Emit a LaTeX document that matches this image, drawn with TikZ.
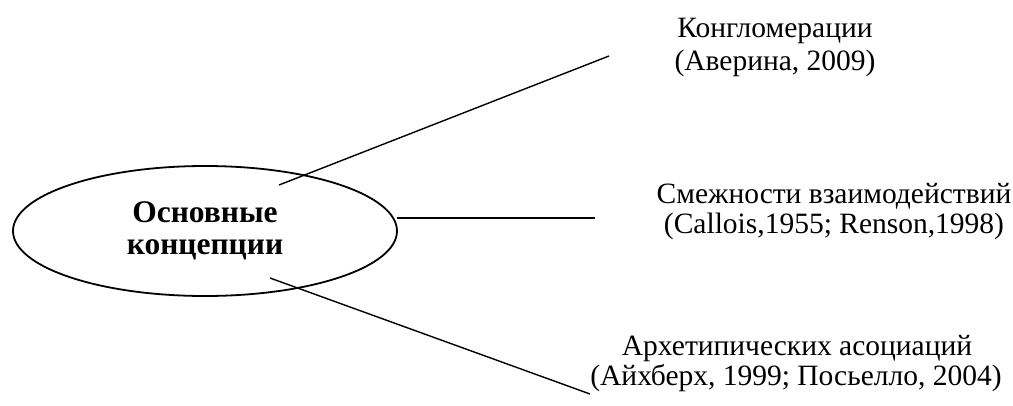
\documentclass[tikz,border=0pt]{standalone}
\usepackage{fontspec}
\setmainfont{Liberation Serif}
\usetikzlibrary{shapes.geometric}
\begin{document}
\begin{tikzpicture}[x=1pt,y=-1pt,
  lbl/.style={anchor=base,inner sep=0pt,font=\fontsize{29.5}{31}\selectfont},
  blbl/.style={anchor=base,inner sep=0pt,font=\fontsize{31.5}{31}\selectfont\bfseries},
  conn/.style={line width=1.4pt},
  core/.style={draw,ellipse,line width=1.8pt,inner sep=0pt,minimum width=384pt,minimum height=130pt}]
\useasboundingbox (0,0) rectangle (1013,405);
% central ellipse
\node[core] (main) at (205,231) {};
\node[blbl] (mainA) at (205,222) {Основные};
\node[blbl] (mainB) at (205,254) {концепции};
% labels
\node[lbl] (t1a) at (775,37) {Конгломерации};
\node[lbl] (t1b) at (775,70) {(Аверина, 2009)};
\node[lbl] (t2a) at (834,203) {Смежности взаимодействий};
\node[lbl] (t2b) at (834,233) {(Callois,1955; Renson,1998)};
\node[lbl] (t3a) at (797,355) {Архетипических асоциаций};
\node[lbl] (t3b) at (796,385) {(Айхберх, 1999; Посьелло, 2004)};
% connector end points
\coordinate (s1) at (279,185);
\coordinate (e1) at (609,56);
\coordinate (s2) at (397,218);
\coordinate (e2) at (595,218);
\coordinate (s3) at (270,278);
\coordinate (e3) at (590,394);
\draw[conn] (s1) -- (e1);
\draw[conn] (s2) -- (e2);
\draw[conn] (s3) -- (e3);
\end{tikzpicture}
\end{document}
